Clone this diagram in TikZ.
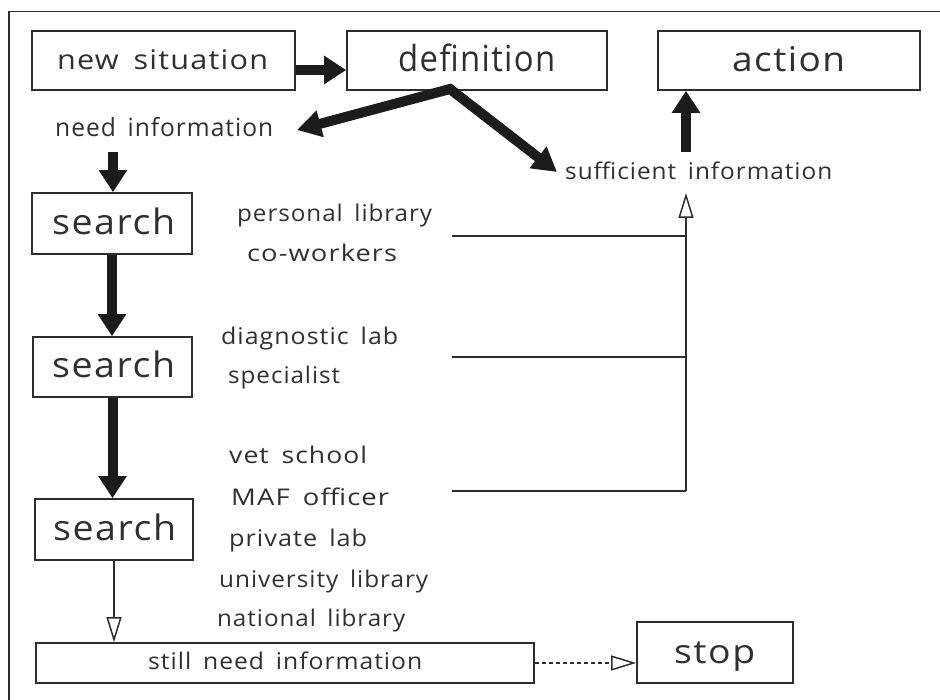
\documentclass[tikz,border=0pt]{standalone}
\usepackage{fontspec}
\setmainfont{Open Sans}[LetterSpace=4,WordSpace=1.6]
\usetikzlibrary{arrows.meta}
\definecolor{ink}{HTML}{2E2E2E}
\definecolor{heavy}{HTML}{1C1C1C}
\definecolor{txt}{HTML}{303030}
% set a text to a given width, keeping its natural height
\newcommand\spanto[2]{\resizebox{#1}{\height}{#2}}
\begin{document}
\begin{tikzpicture}[x=1pt,y=-1pt,
  box/.style={draw=ink, line width=1.6pt, inner sep=0pt},
  lbl/.style={inner sep=0pt, anchor=base west, text=txt},
  fsz/.style={font=\fontsize{#1}{#1}\selectfont},
  heavyarrow/.style={draw=heavy, line width=10pt,
    -{Triangle[length=22pt,width=27pt]}},
  openarrow/.style={draw=ink, line width=1.5pt,
    -{Triangle[open,length=25pt,width=15pt]}},
  thinline/.style={draw=ink, line width=1.5pt}]
\useasboundingbox (0,0) rectangle (940,700);
\clip (0,0) rectangle (940,700);
% outer frame
\draw[draw=ink, line width=1.8pt] (9,705) -- (9,11.5) -- (945,11.5);

% boxes
\node[box, minimum width=263pt, minimum height=59pt] (newsit) at (163.5,60.5) {};
\node[lbl, fsz=27] at (57,70) {\spanto{211pt}{new situation}};
\node[box, minimum width=260pt, minimum height=59pt] (def) at (477,60.5) {};
\node[lbl, fsz=36] at (398,72) {\spanto{157pt}{definition}};
\node[box, minimum width=262pt, minimum height=59pt] (action) at (789,60.5) {};
\node[lbl, fsz=34] at (732,72) {\spanto{113pt}{action}};

\node[box, minimum width=160pt, minimum height=61pt] (search1) at (112,223.5) {};
\node[lbl, fsz=35] at (52,235) {\spanto{123pt}{search}};
\node[box, minimum width=159pt, minimum height=60pt] (search2) at (112.5,367) {};
\node[lbl, fsz=35] at (52,378) {\spanto{123pt}{search}};
\node[box, minimum width=158pt, minimum height=61pt] (search3) at (114,529.5) {};
\node[lbl, fsz=35] at (53,540) {\spanto{123pt}{search}};

\node[box, minimum width=498pt, minimum height=40pt] (still) at (285,663) {};
\node[lbl, fsz=23] at (148,669) {\spanto{274pt}{still need information}};
\node[box, minimum width=156pt, minimum height=61pt] (stop) at (715,652.5) {};
\node[lbl, fsz=33] at (674,663) {\spanto{81pt}{stop}};

% outcome labels
\node[lbl, fsz=25] (needinfo) at (55,137) {\spanto{218pt}{need information}};
\node[lbl, fsz=23] (suffinfo) at (565,180) {\spanto{267pt}{sufficient information}};

% sources consulted
\node[lbl, fsz=23] at (237,222) {\spanto{195pt}{personal library}};
\node[lbl, fsz=23] at (247,262) {\spanto{150pt}{co-workers}};
\node[lbl, fsz=23] at (221,345) {\spanto{177pt}{diagnostic lab}};
\node[lbl, fsz=23] at (228,384) {\spanto{112pt}{specialist}};
\node[lbl, fsz=23] at (229,464) {\spanto{138pt}{vet school}};
\node[lbl, fsz=23] at (231,506) {\spanto{158pt}{MAF officer}};
\node[lbl, fsz=23] at (229,546) {\spanto{138pt}{private lab}};
\node[lbl, fsz=23] at (219,587) {\spanto{209pt}{university library}};
\node[lbl, fsz=23] at (217,626) {\spanto{188pt}{national library}};

% connector points
\coordinate (split) at (450,89);
\coordinate (needtip) at (297,130);
\coordinate (sufftip) at (557,172);
\coordinate (needfoot) at (113,152);
\coordinate (upfoot) at (686,152);
\coordinate (bustop) at (686,193);
\coordinate (busbot) at (686,491);
\coordinate (h1) at (452,236);
\coordinate (h2) at (452,357);
\coordinate (h3) at (452,491);

% heavy arrows
\draw[heavyarrow] ([yshift=-9.5pt]newsit.east) -- ([yshift=-9.5pt]def.west);
\draw[heavyarrow, {Triangle[length=24pt,width=26pt]}-{Triangle[length=24pt,width=26pt]}, line join=miter]
  (needtip) -- (split) -- (sufftip);
\draw[heavyarrow] (upfoot) -- (upfoot |- action.south);
\draw[heavyarrow] (needfoot) -- (needfoot |- search1.north);
\draw[heavyarrow] (search1.south) -- (search1.south |- search2.north);
\draw[heavyarrow] (search2.south) -- (search2.south |- search3.north);

% feedback bus to sufficient information
\draw[thinline] (h1) -- (h1 -| busbot);
\draw[thinline] (h2) -- (h2 -| busbot);
\draw[thinline] (h3) -- (busbot);
\draw[openarrow] (busbot) -- (bustop);

% still need information
\draw[openarrow] (search3.south) -- (search3.south |- still.north);
\draw[openarrow, dash pattern=on 4pt off 3pt] (still.east) -- (still.east -| stop.west);
\end{tikzpicture}
\end{document}
